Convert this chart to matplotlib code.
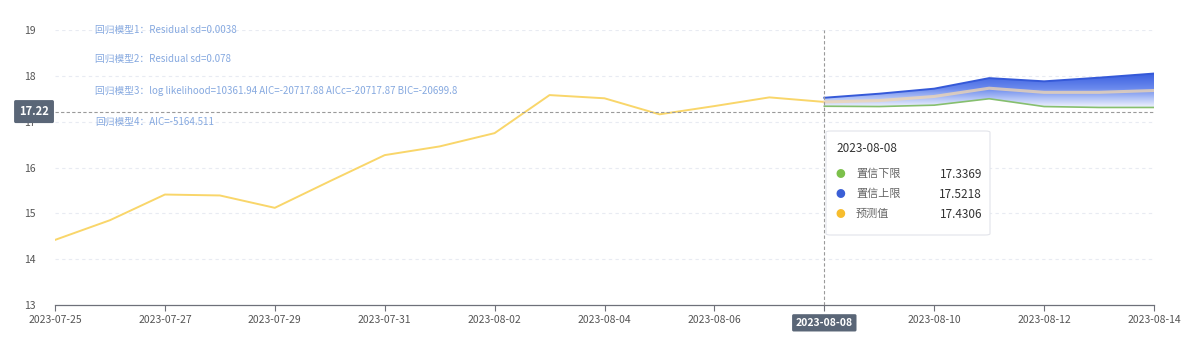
import matplotlib
matplotlib.use("Agg")
import matplotlib.pyplot as plt
import numpy as np
from matplotlib.colors import LinearSegmentedColormap
from matplotlib.patches import FancyBboxPatch

plt.rcParams['font.family'] = ['Noto Sans CJK SC', 'DejaVu Sans']

dates = ["2023-07-25", "2023-07-26", "2023-07-27", "2023-07-28", "2023-07-29",
         "2023-07-30", "2023-07-31", "2023-08-01", "2023-08-02", "2023-08-03",
         "2023-08-04", "2023-08-05", "2023-08-06", "2023-08-07", "2023-08-08",
         "2023-08-09", "2023-08-10", "2023-08-11", "2023-08-12", "2023-08-13",
         "2023-08-14"]
history = [14.42, 14.85, 15.41, 15.39, 15.12, 15.70, 16.27, 16.46, 16.75,
           17.58, 17.51, 17.16, 17.34, 17.53, 17.4306]
forecast_dates = ["2023-08-08", "2023-08-09", "2023-08-10", "2023-08-11",
                  "2023-08-12", "2023-08-13", "2023-08-14"]
upper = [17.5218, 17.61, 17.72, 17.95, 17.88, 17.96, 18.05]
lower = [17.3369, 17.33, 17.36, 17.50, 17.33, 17.31, 17.31]
predicted = [17.4306, 17.46, 17.55, 17.73, 17.64, 17.64, 17.68]
yticks = [13, 14, 15, 16, 17, 18, 19]
xtick_labels = dates[::2]
pointer_y = 17.22
pointer_date = "2023-08-08"
model_notes = ["回归模型1：Residual sd=0.0038",
               "回归模型2：Residual sd=0.078",
               "回归模型3：log likelihood=10361.94 AIC=-20717.88 AICc=-20717.87 BIC=-20699.8",
               "回归模型4：AIC=-5164.511"]
tooltip_rows = [("置信下限", "17.3369", "#7cc04b"),
                ("置信上限", "17.5218", "#3b5fd6"),
                ("预测值", "17.4306", "#f7bd2e")]

xi = {d: i for i, d in enumerate(dates)}
hx = [xi[d] for d in dates[:len(history)]]
fx = [xi[d] for d in forecast_dates]

fig = plt.figure(figsize=(12, 3.44), dpi=100)
fig.patch.set_facecolor("white")
ax = fig.add_axes([55/1200, 1-305/344, (1154-55)/1200, (305-30)/344])
ax.set_facecolor("white")
ax.set_xlim(0, len(dates)-1)
ax.set_ylim(13, 19)

# grid
for yv in yticks[1:]:
    ax.axhline(yv, color="#e8ebf2", lw=0.8, ls=(0, (3, 3)), zorder=0)

# history line
ax.plot(hx, history, color="#f9d66a", lw=1.4, zorder=3, solid_joinstyle="round")

# gradient band
poly = ax.fill_between(fx, lower, upper, color="none", lw=0)
cmap = LinearSegmentedColormap.from_list(
    "band", [(0, "#eef2fd"), (0.25, "#b3c4f6"), (0.55, "#6a89ed"), (1, "#3a5fe0")])
grad = np.linspace(0, 1, 256).reshape(-1, 1)
im = ax.imshow(grad, extent=[fx[0], fx[-1], min(lower), max(upper)], origin="lower",
               aspect="auto", cmap=cmap, zorder=2)
im.set_clip_path(poly.get_paths()[0], transform=ax.transData)
ax.plot(fx, upper, color="#3559d8", lw=1.4, zorder=4)
ax.plot(fx, lower, color="#86bf6e", lw=1.2, zorder=4)
ax.plot(fx, predicted, color="#f2d7b0", lw=2.2, alpha=0.75, zorder=4)

# pointer lines
ax.axhline(pointer_y, color="#9a9a9a", lw=0.8, ls=(0, (3, 2)), zorder=5)
ax.axvline(xi[pointer_date], color="#9a9a9a", lw=0.8, ls=(0, (3, 2)), zorder=5)

# axes styling
for s in ["top", "right", "left"]:
    ax.spines[s].set_visible(False)
ax.spines["bottom"].set_color("#6e7079")
ax.spines["bottom"].set_linewidth(0.9)
ax.set_yticks(yticks)
ax.set_yticklabels([str(v) for v in yticks])
ax.tick_params(axis="y", length=0, pad=14, labelsize=7.5, labelcolor="#555555")
ax.set_xticks([xi[d] for d in xtick_labels])
ax.set_xticklabels([("" if d == pointer_date else d) for d in xtick_labels])
ax.tick_params(axis="x", length=4, color="#6e7079", labelsize=7.5, labelcolor="#555555", pad=3)

# pointer labels
ax.text(-0.0055, pointer_y, "17.22", transform=ax.get_yaxis_transform(), ha="right", va="center",
        fontsize=8, color="white", fontweight="bold", zorder=20, clip_on=False,
        bbox=dict(boxstyle="round,pad=0.45,rounding_size=0.15", fc="#5a6677", ec="none"))
ax.text(xi[pointer_date], 12.72, pointer_date, transform=ax.transData, ha="center", va="top",
        fontsize=7.5, color="white", fontweight="bold", zorder=20, clip_on=False,
        bbox=dict(boxstyle="round,pad=0.35,rounding_size=0.15", fc="#5a6677", ec="none"))

# model notes
note_y = [30, 59, 91, 122]
for txt, py in zip(model_notes, note_y):
    fig.text(95/1200, 1-py/344, txt, fontsize=7, color="#86a9e0", va="center", ha="left")

# tooltip
box = FancyBboxPatch((826/1200, 1-235/344), (990-826)/1200, (235-131)/344,
                     boxstyle="round,pad=0,rounding_size=0.004", transform=fig.transFigure,
                     fc="white", ec="#e2e4ea", lw=0.8, zorder=30)
fig.add_artist(box)
fig.text(836/1200, 1-148/344, pointer_date, fontsize=8.5, color="#333333", va="center", zorder=31)
for k, (lab, val, col) in enumerate(tooltip_rows):
    yy = 1-(174+20*k)/344
    fig.text(840/1200, yy, "●", fontsize=7, color=col, va="center", ha="center", zorder=31)
    fig.text(856/1200, yy, lab, fontsize=8, color="#666666", va="center", zorder=31)
    fig.text(982/1200, yy, val, fontsize=8.5, color="#333333", va="center", ha="right",
             fontweight="medium", zorder=31)

fig.savefig("out.png", dpi=100, facecolor="white")
